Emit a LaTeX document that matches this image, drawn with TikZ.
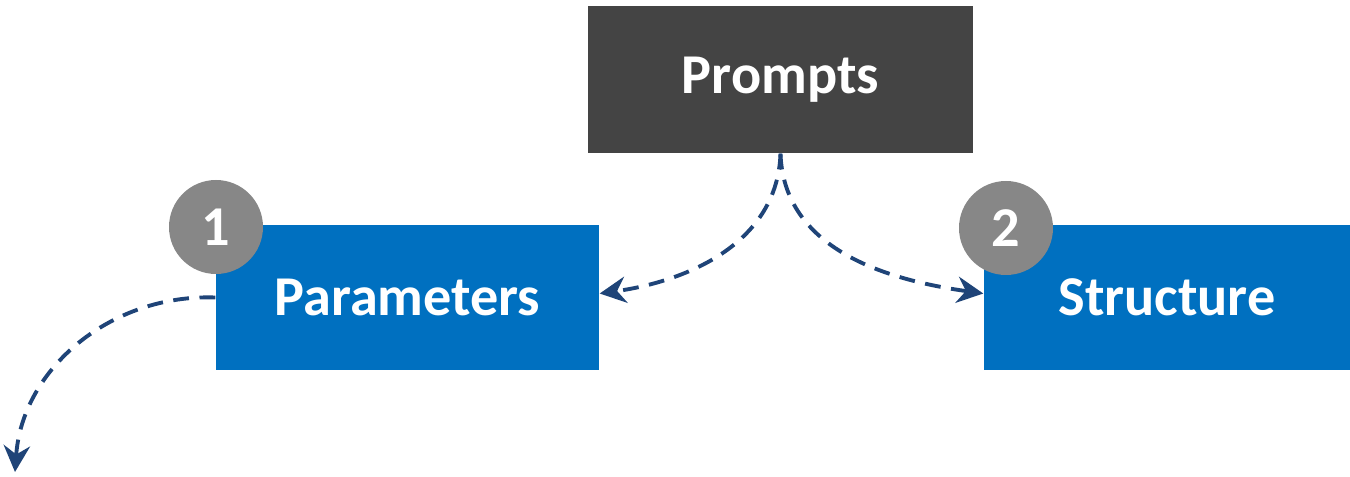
\documentclass[tikz,border=0pt]{standalone}
\usepackage{fontspec}
\setmainfont{Carlito}
\usepackage{xcolor}
\usetikzlibrary{arrows.meta}

\definecolor{boxgray}{HTML}{444444}
\definecolor{boxblue}{HTML}{0070C0}
\definecolor{badgegray}{HTML}{878787}
\definecolor{linkblue}{HTML}{1F4478}

\begin{document}
\begin{tikzpicture}[
    every node/.style={font=\fontsize{16}{19}\selectfont\bfseries, text=white, inner sep=0pt},
    topbox/.style={fill=boxgray, minimum width=3.85cm, minimum height=1.47cm},
    stagebox/.style={fill=boxblue, minimum height=1.45cm},
    badge/.style={circle, fill=badgegray, minimum size=0.94cm},
    link/.style={draw=linkblue, line width=1.1pt, dash pattern=on 4.5pt off 3pt,
                 -{Stealth[length=7.5pt, width=7.5pt, inset=2.5pt]}}]
  \useasboundingbox (0,0) rectangle (13.5,-4.77);

  \node (prompts) [topbox] at (7.805,-0.795) {Prompts};
  \node (params) [stagebox, minimum width=3.83cm] at (4.075,-2.975) {Parameters};
  \node (struct) [stagebox, minimum width=3.66cm] at (11.67,-2.975) {Structure};

  \node (one) [badge] at (2.16,-2.27) {1};
  \node (two) [badge] at (10.06,-2.28) {2};

  \coordinate (next) at (0.15,-4.72);

  % Arrows for the flow
  \draw[link] (prompts.south) to[out=-92, in=8] ([yshift=0.04cm]params.east);
  \draw[link] (prompts.south) to[out=-88, in=172] ([yshift=0.04cm]struct.west);
  \draw[link] (params.west) to[out=178, in=86] (next);
\end{tikzpicture}
\end{document}
